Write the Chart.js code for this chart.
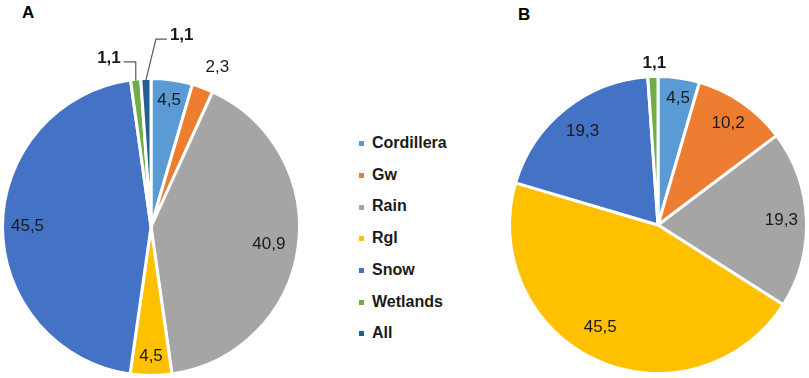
<!DOCTYPE html>
<html>
<head>
<meta charset="utf-8">
<script src="https://cdn.jsdelivr.net/npm/chart.js@4.4.1/dist/chart.umd.min.js"></script>
<style>
  html, body { margin: 0; padding: 0; background: #fff; }
  #wrap { position: relative; width: 809px; height: 378px; overflow: hidden; font-family: 'Liberation Sans', Arial, sans-serif; }
  .panel { position: absolute; font-weight: bold; font-size: 17px; line-height: 17px; color: #000; }
  #chartA { position: absolute; left: 0; top: 0; }
  #chartB { position: absolute; left: 480px; top: 0; }
  .item { position: absolute; left: 359px; font-size: 16px; line-height: 16px; font-weight: bold; color: #1a1a1a; white-space: nowrap; }
  .item i { display: inline-block; width: 5px; height: 5px; margin-right: 8px; vertical-align: middle; }
</style>
</head>
<body>
<div id="wrap">
  <div class="panel" style="left:22px; top:4px;">A</div>
  <div class="panel" style="left:518px; top:6px;">B</div>
  <canvas id="chartA" width="330" height="378"></canvas>
  <canvas id="chartB" width="329" height="378"></canvas>
  <div id="legend"></div>
</div>
<script>
const categories = ['Cordillera', 'Gw', 'Rain', 'Rgl', 'Snow', 'Wetlands', 'All'];
const valuesA = [4.5, 2.3, 40.9, 4.5, 45.5, 1.1, 1.1];
const valuesB = [4.5, 10.2, 19.3, 45.5, 19.3, 1.1, 0];
const sliceColors = ['#5B9BD5', '#ED7D31', '#A5A5A5', '#FFC000', '#4472C4', '#70AD47', '#255E91'];

// where each value label sits (fraction of radius, small nudges, leader lines)
const labelSpecA = [
    { r: 0.87 }, { r: 1.18, dx: 6, dy: 3 }, { r: 0.81 }, { r: 0.88 }, { r: 0.84 },
    { leader: 'left', bold: true }, { leader: 'right', bold: true }
];
const labelSpecB = [
    { r: 0.87, dx: 2 }, { r: 0.84 }, { r: 0.84 }, { r: 0.8, dx: -9, dy: -5 }, { r: 0.82 },
    { r: 1.1, dx: 2, bold: true }, {}
];

const fmt = v => String(v).replace('.', ',');

const sliceLabels = {
    id: 'sliceLabels',
    afterDatasetsDraw(chart, args, opts) {
        const ctx = chart.ctx;
        const meta = chart.getDatasetMeta(0);
        const values = chart.data.datasets[0].data;
        ctx.save();
        meta.data.forEach((arc, i) => {
            const v = values[i];
            const spec = opts.specs[i] || {};
            if (!v) return;
            const mid = (arc.startAngle + arc.endAngle) / 2;
            const R = arc.outerRadius - 1.5;
            ctx.font = (spec.bold ? 'bold ' : '') + '17px "Liberation Sans", Arial, sans-serif';
            ctx.fillStyle = '#1a1a1a';
            ctx.textBaseline = 'middle';
            if (spec.leader) {
                const px = arc.x + Math.cos(mid) * R;
                const py = arc.y + Math.sin(mid) * R;
                ctx.strokeStyle = '#595959';
                ctx.lineWidth = 1.2;
                ctx.beginPath();
                ctx.moveTo(px, py);
                if (spec.leader === 'left') {
                    ctx.lineTo(px, py - 19);
                    ctx.lineTo(px - 12, py - 19);
                    ctx.stroke();
                    ctx.textAlign = 'right';
                    ctx.fillText(fmt(v), px - 15, py - 22);
                } else {
                    ctx.lineTo(px + 10, py - 41);
                    ctx.lineTo(px + 21, py - 41);
                    ctx.stroke();
                    ctx.textAlign = 'left';
                    ctx.fillText(fmt(v), px + 24, py - 45);
                }
                return;
            }
            ctx.textAlign = 'center';
            const x = arc.x + Math.cos(mid) * R * spec.r + (spec.dx || 0);
            const y = arc.y + Math.sin(mid) * R * spec.r + (spec.dy || 0);
            ctx.fillText(fmt(v), x, y);
        });
        ctx.restore();
    }
};

const makePie = (id, values, specs, pad) => {
    new Chart(document.getElementById(id), {
        type: 'pie',
        data: {
            labels: categories,
            datasets: [{
                data: values,
                backgroundColor: sliceColors,
                borderColor: '#ffffff',
                borderWidth: 3,
                hoverOffset: 0
            }]
        },
        options: {
            responsive: false,
            animation: false,
            radius: 148.5,
            layout: { padding: pad },
            plugins: {
                legend: { display: false },
                tooltip: { enabled: false },
                sliceLabels: { specs }
            }
        },
        plugins: [sliceLabels]
    });
};

makePie('chartA', valuesA, labelSpecA, { left: 0, right: 28, top: 76, bottom: 0 });
makePie('chartB', valuesB, labelSpecB, { left: 27, right: 0, top: 72, bottom: 0 });

// legend in the middle
const legend = document.getElementById('legend');
categories.forEach((name, i) => {
    const row = document.createElement('div');
    row.className = 'item';
    row.style.top = (135 + i * 31.7) + 'px';
    row.innerHTML = '<i style="background:' + sliceColors[i] + '"></i>' + name;
    legend.appendChild(row);
});
</script>
</body>
</html>
